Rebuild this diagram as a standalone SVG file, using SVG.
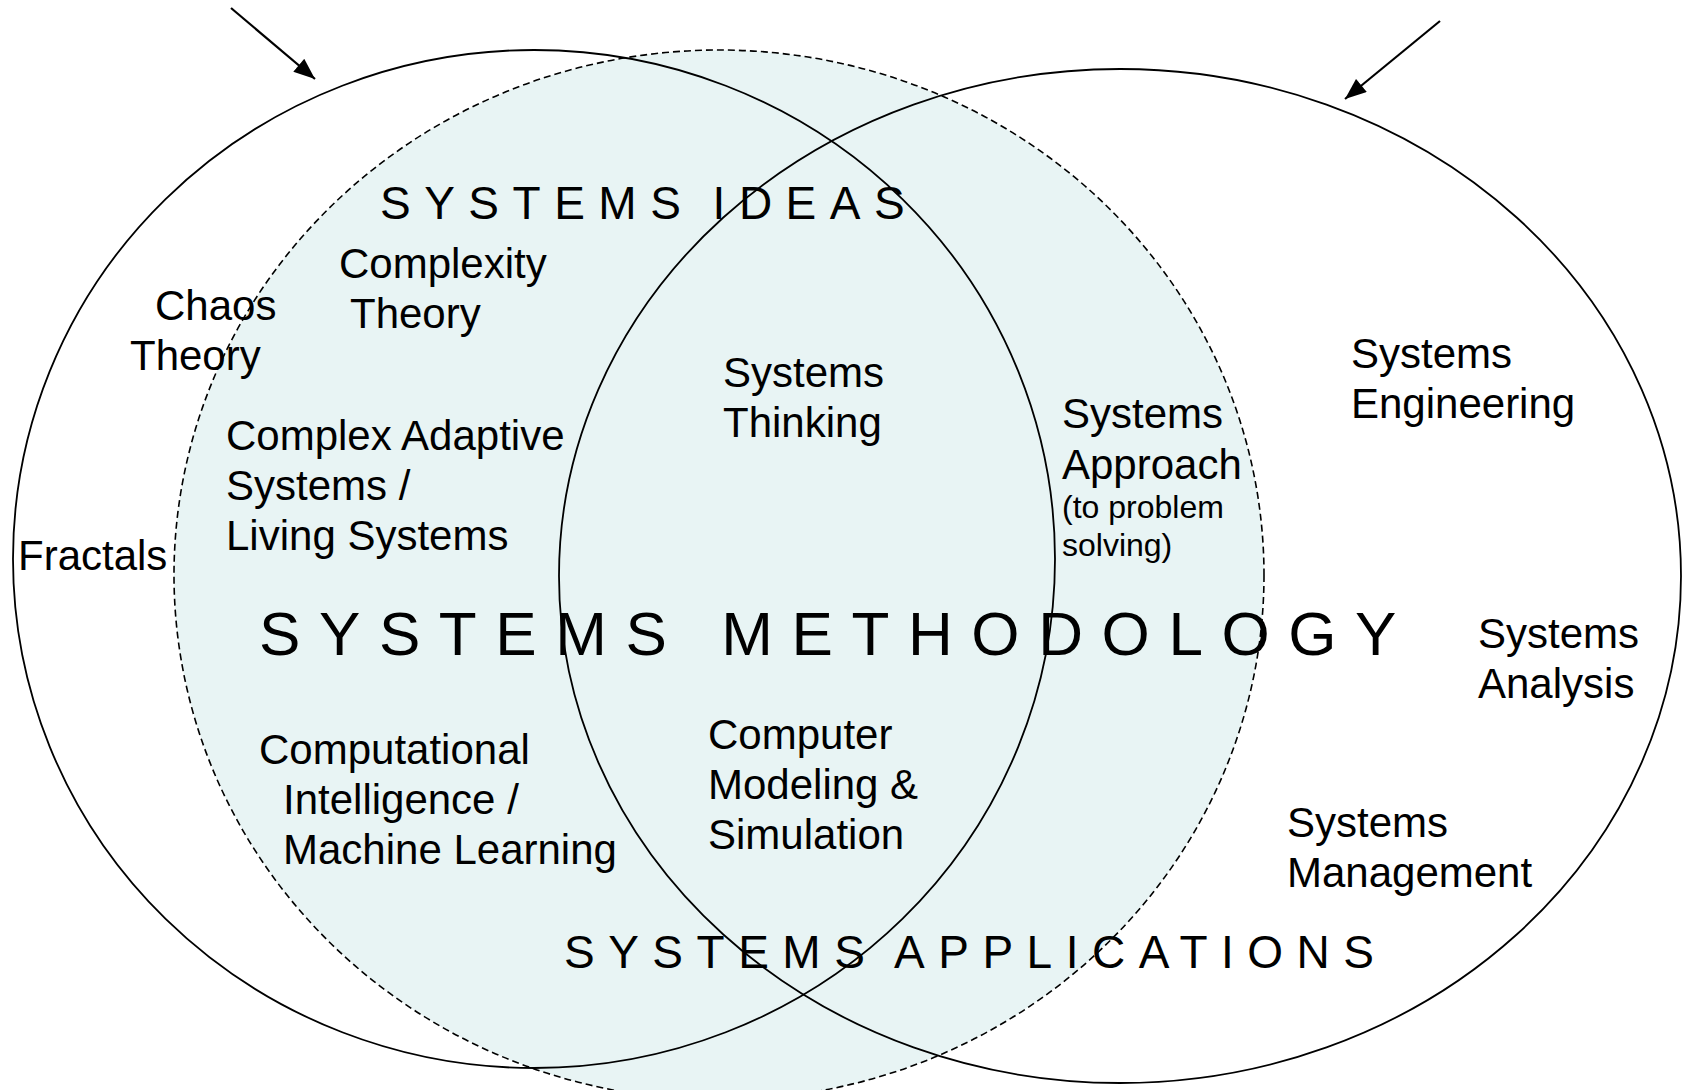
<svg xmlns="http://www.w3.org/2000/svg" width="1692" height="1090" viewBox="0 0 1692 1090">
<style>
.t{font-family:"Liberation Sans",Arial,sans-serif;font-size:42px;fill:#000}
.s{font-size:32px}
.cap{font-family:"Liberation Sans",Arial,sans-serif;font-size:46px;letter-spacing:13.5px;word-spacing:-8px;fill:#000}
.big{font-family:"Liberation Sans",Arial,sans-serif;font-size:62px;letter-spacing:18.6px;fill:#000}
.ring{fill:none;stroke:#000;stroke-width:1.8}
.dash{fill:#E8F4F4;stroke:#000;stroke-width:1.6;stroke-dasharray:7 4}
.arr{stroke:#000;stroke-width:2.2;fill:none}
</style>
<defs>
<marker id="ahb" viewBox="0 0 20 16" refX="20" refY="8" markerWidth="22" markerHeight="17" markerUnits="userSpaceOnUse" orient="auto">
<path d="M0,0 L20,8 L0,16 z" fill="#000"/>
</marker>
</defs>
<rect width="1692" height="1090" fill="#fff"/>
<g id="methodology-region">
<ellipse class="dash" cx="719" cy="575" rx="545" ry="525"/>
</g>
<g id="ideas-circle">
<ellipse class="ring" cx="534" cy="559" rx="521" ry="509"/>
</g>
<g id="applications-circle">
<ellipse class="ring" cx="1120" cy="576" rx="561" ry="507"/>
</g>
<g id="connectors">
<line class="arr" x1="231" y1="8" x2="315" y2="79" marker-end="url(#ahb)"/>
<line class="arr" x1="1440" y1="21" x2="1345" y2="99" marker-end="url(#ahb)"/>
</g>
<g id="label-systems-ideas"><text class="cap" x="380" y="219">SYSTEMS IDEAS</text></g>
<g id="label-systems-methodology"><text class="big" x="259" y="655">SYSTEMS  METHODOLOGY</text></g>
<g id="label-systems-applications"><text class="cap" x="564" y="968">SYSTEMS APPLICATIONS</text></g>
<g id="node-chaos"><text class="t" x="155" y="320">Chaos</text><text class="t" x="130" y="370">Theory</text></g>
<g id="node-complexity"><text class="t" x="339" y="278">Complexity</text><text class="t" x="350" y="328">Theory</text></g>
<g id="node-cas"><text class="t" x="226" y="450">Complex Adaptive</text><text class="t" x="226" y="500">Systems /</text><text class="t" x="226" y="550">Living Systems</text></g>
<g id="node-fractals"><text class="t" x="18" y="570">Fractals</text></g>
<g id="node-thinking"><text class="t" x="723" y="387">Systems</text><text class="t" x="723" y="437">Thinking</text></g>
<g id="node-approach"><text class="t" x="1062" y="428">Systems</text><text class="t" x="1062" y="479">Approach</text><text class="t s" x="1062" y="518">(to problem</text><text class="t s" x="1062" y="556">solving)</text></g>
<g id="node-engineering"><text class="t" x="1351" y="368">Systems</text><text class="t" x="1351" y="418">Engineering</text></g>
<g id="node-analysis"><text class="t" x="1478" y="648">Systems</text><text class="t" x="1478" y="698">Analysis</text></g>
<g id="node-management"><text class="t" x="1287" y="837">Systems</text><text class="t" x="1287" y="887">Management</text></g>
<g id="node-ci"><text class="t" x="259" y="764">Computational</text><text class="t" x="283" y="814">Intelligence /</text><text class="t" x="283" y="864">Machine Learning</text></g>
<g id="node-modeling"><text class="t" x="708" y="749">Computer</text><text class="t" x="708" y="799">Modeling &amp;</text><text class="t" x="708" y="849">Simulation</text></g>
</svg>
